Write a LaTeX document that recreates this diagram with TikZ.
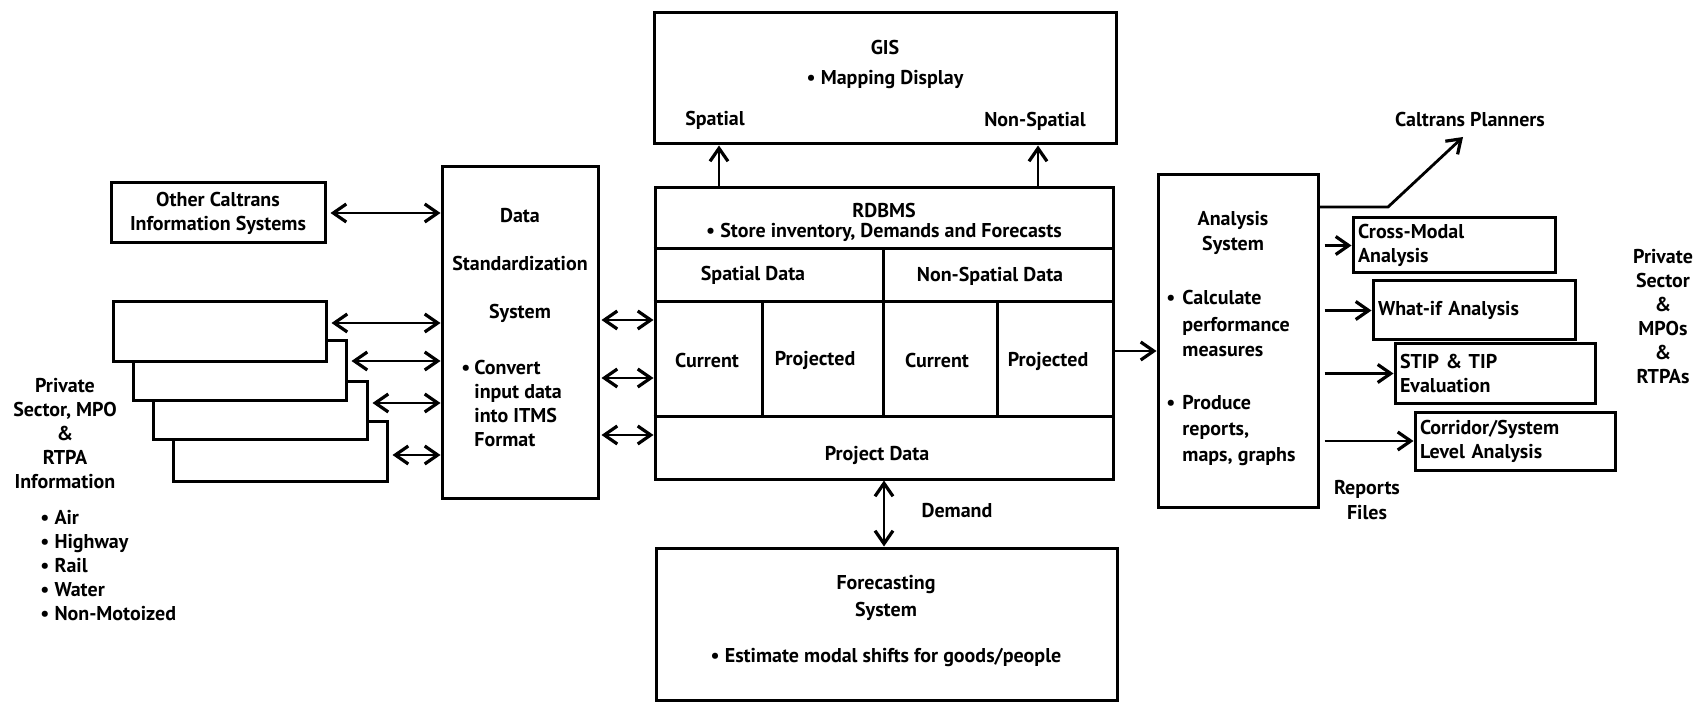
\documentclass[tikz,border=0pt]{standalone}
\usepackage{fontspec}
\setmainfont{PT Sans}
\usetikzlibrary{arrows.meta}
\begin{document}
\begin{tikzpicture}[x=0.5pt,y=-0.5pt,
  font=\bfseries\fontsize{10}{12}\selectfont,
  box/.style={draw, line width=1.5pt, inner sep=0pt, fill=white},
  rbox/.style={box, inner xsep=2.5pt, align=left},
  txt/.style={inner sep=0pt, align=center},
  ltxt/.style={inner sep=0pt, align=left},
  ln/.style={line width=1.5pt},
  arr/.style={line width=1.4pt, -{Straight Barb[length=6.5pt,width=9pt,line width=1.6pt]}},
  darr/.style={line width=1.4pt, {Straight Barb[length=6.5pt,width=9pt,line width=1.6pt]}-{Straight Barb[length=6.5pt,width=9pt,line width=1.6pt]}},
]
\useasboundingbox (0,0) rectangle (1695,705);

% ---------- GIS ----------
\node[box, minimum width=231pt, minimum height=65.5pt] (gis) at (885,78.5) {};
\node[txt] (gist) at (885,48) {GIS};
\node[txt] (gisb) at (885,80) {• Mapping Display};
\node[txt] (giss) at (715,120) {Spatial};
\node[txt] (gisn) at (1035,121) {Non-Spatial};

% ---------- RDBMS ----------
\node[box, minimum width=229pt, minimum height=145.5pt] (rdb) at (884,333.5) {};
\coordinate (r1) at (0,249);
\coordinate (r2) at (0,302);
\coordinate (r3) at (0,416);
\coordinate (vx) at (883,0);
\coordinate (vl) at (762,0);
\coordinate (vr) at (997,0);
\draw[ln] (rdb.west |- r1) -- (rdb.east |- r1);
\draw[ln] (rdb.west |- r2) -- (rdb.east |- r2);
\draw[ln] (rdb.west |- r3) -- (rdb.east |- r3);
\draw[ln] (vx |- r1) -- (vx |- r3);
\draw[ln] (vl |- r2) -- (vl |- r3);
\draw[ln] (vr |- r2) -- (vr |- r3);
\node[txt] (rdbt) at (884,211) {RDBMS};
\node[txt] (rdbb) at (884,232) {• Store inventory, Demands and Forecasts};
\node[txt] (sd) at (753,275) {Spatial Data};
\node[txt] (nsd) at (990,276) {Non-Spatial Data};
\node[txt] (c1) at (707,360) {Current};
\node[txt] (p1t) at (815,360) {Projected};
\node[txt] (c2) at (937,360) {Current};
\node[txt] (p2t) at (1048,361) {Projected};
\node[txt] (pd) at (877,455) {Project Data};

% GIS arrows
\coordinate (gx1) at (719,0);
\coordinate (gx2) at (1038,0);
\draw[arr] (rdb.north -| gx1) -- (gis.south -| gx1);
\draw[arr] (rdb.north -| gx2) -- (gis.south -| gx2);

% ---------- Forecasting ----------
\node[box, minimum width=230.5pt, minimum height=76pt] (fc) at (886.5,624) {};
\node[txt] (fct) at (886,597.5) {Forecasting\\[1.5pt]System};
\node[txt] (fcb) at (886,657) {• Estimate modal shifts for goods/people};
\draw[darr] (rdb.south) -- (rdb.south |- fc.north);
\node[txt] (dem) at (957,511) {Demand};

% ---------- Data Standardization ----------
\node[box, minimum width=78pt, minimum height=165.5pt] (dss) at (520,332.5) {};
\node[txt] (dsst) at (520,265) {Data\\[12pt]Standardization\\[12pt]System};
\node[ltxt, anchor=west] (dssb) at (461,403.5) {\makebox[6.5pt][l]{•}Convert\\\hspace*{6.5pt}input data\\\hspace*{6.5pt}into ITMS\\\hspace*{6.5pt}Format};

% ---------- Other Caltrans ----------
\node[box, minimum width=107pt, minimum height=30pt, align=center] (oth) at (218,213) {Other Caltrans\\Information Systems};

% ---------- stacked input boxes ----------
\node[box, minimum width=107pt, minimum height=30pt] (p4) at (280,451) {};
\node[box, minimum width=107pt, minimum height=29pt] (p3) at (260,410) {};
\node[box, minimum width=106.5pt, minimum height=29.5pt] (p2) at (239.5,370.5) {};
\node[box, minimum width=106.5pt, minimum height=29.5pt] (p1) at (219.5,331.5) {};

\coordinate (yo) at (0,213);
\coordinate (y1) at (0,323);
\coordinate (y2) at (0,361);
\coordinate (y3) at (0,403);
\coordinate (y4) at (0,455);
\draw[darr, shorten <=2pt] (oth.east |- yo) -- (dss.west |- yo);
\draw[darr, shorten <=2pt] (p1.east |- y1) -- (dss.west |- y1);
\draw[darr, shorten <=2pt] (p2.east |- y2) -- (dss.west |- y2);
\draw[darr, shorten <=2pt] (p3.east |- y3) -- (dss.west |- y3);
\draw[darr, shorten <=2pt] (p4.east |- y4) -- (dss.west |- y4);

\node[txt] (lt) at (65,434) {Private\\Sector, MPO\\\&\\RTPA\\Information};
\node[ltxt, anchor=west] (modes) at (40,566) {• Air\\• Highway\\• Rail\\• Water\\• Non-Motoized};

% DSS <-> RDBMS
\coordinate (d1) at (0,320);
\coordinate (d2) at (0,378);
\coordinate (d3) at (0,435);
\draw[darr, shorten <=1pt] (dss.east |- d1) -- (rdb.west |- d1);
\draw[darr, shorten <=1pt] (dss.east |- d2) -- (rdb.west |- d2);
\draw[darr, shorten <=1pt] (dss.east |- d3) -- (rdb.west |- d3);

% ---------- Analysis ----------
\node[box, minimum width=80pt, minimum height=166pt] (ana) at (1238,341) {};
\coordinate (a0) at (0,351);
\draw[arr] (rdb.east |- a0) -- (ana.west |- a0);
\node[txt, font=\bfseries\fontsize{10}{12.5}\selectfont] (anat) at (1233,232.5) {Analysis\\System};
\node[ltxt, anchor=west, font=\bfseries\fontsize{10}{13}\selectfont] (anab1) at (1166,324) {\makebox[8pt][l]{•}Calculate\\\hspace*{8pt}performance\\\hspace*{8pt}measures};
\node[ltxt, anchor=west, font=\bfseries\fontsize{10}{13}\selectfont] (anab2) at (1166,431) {\makebox[8pt][l]{•}Produce\\\hspace*{8pt}reports,\\\hspace*{8pt}maps, graphs};

% Caltrans planners
\node[txt] (cp) at (1470,120) {Caltrans Planners};
\coordinate (cpk) at (1388,207);
\coordinate (cpe) at (1463,137);
\draw[arr] (ana.east |- cpk) -- (cpk) -- (cpe);

% ---------- Output boxes ----------
\node[rbox, text width=96pt, minimum height=27.5pt] (cm) at (1454,245.5) {Cross-Modal\\Analysis};
\node[rbox, text width=96pt, minimum height=29.5pt] (wi) at (1474,310.5) {What-if Analysis};
\node[rbox, text width=95pt, minimum height=29.5pt] (st) at (1495,373.5) {STIP \& TIP\\Evaluation};
\node[rbox, text width=95pt, minimum height=29pt] (co) at (1515,441) {Corridor/System\\Level Analysis};

\draw[arr, shorten <=2.5pt] (ana.east |- cm.west) -- (cm.west);
\draw[arr, shorten <=2.5pt] (ana.east |- wi.west) -- (wi.west);
\draw[arr, shorten <=2.5pt] (ana.east |- st.west) -- (st.west);
\draw[arr, shorten <=2.5pt] (ana.east |- co.west) -- (co.west);

\node[txt, font=\bfseries\fontsize{10}{12.5}\selectfont] (rf) at (1367,500) {Reports\\Files};
\node[txt] (rt) at (1663,317) {Private\\Sector\\\&\\MPOs\\\&\\RTPAs};

\end{tikzpicture}
\end{document}
